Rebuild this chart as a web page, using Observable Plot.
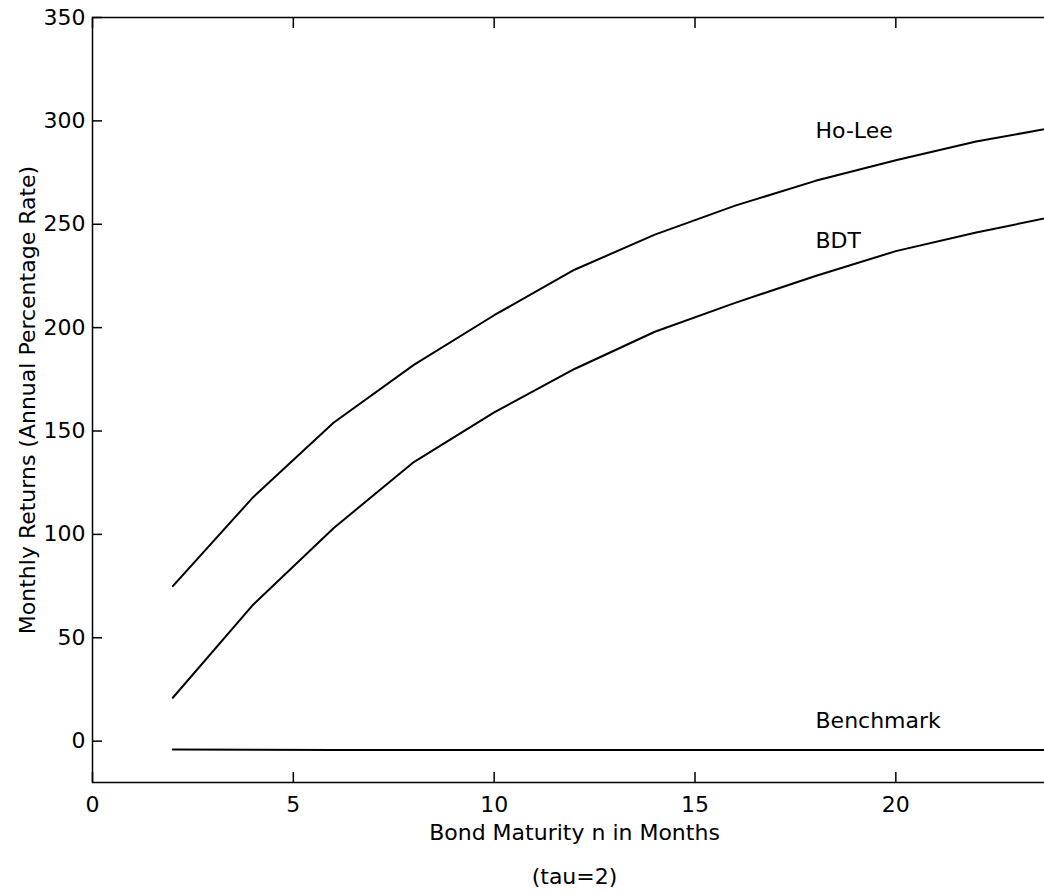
<!DOCTYPE html>
<html>
<head>
<meta charset="utf-8">
<script src="https://cdn.jsdelivr.net/npm/d3@7"></script>
<script src="https://cdn.jsdelivr.net/npm/@observablehq/plot@0.6"></script>
<style>
  html, body { margin: 0; padding: 0; background: #fff; overflow: hidden; }
  #chart { width: 1044px; height: 894px; overflow: hidden; }
  #chart svg { max-width: none !important; }
</style>
</head>
<body>
<div id="chart"></div>
<script>
// Bond maturity n (months)
const maturity = [2, 4, 6, 8, 10, 12, 14, 16, 18, 20, 22, 24];
// Monthly returns (annual percentage rate)
const hoLee     = [75, 118, 154, 182, 206, 228, 245, 259, 271, 281, 290, 297];
const bdt       = [21, 66, 103, 135, 159, 180, 198, 212, 225, 237, 246, 254];
const benchmark = [-4, -4.2, -4.3, -4.3, -4.3, -4.3, -4.3, -4.3, -4.3, -4.3, -4.3, -4.3];

const seriesNames = ["Ho-Lee", "BDT", "Benchmark"];
const seriesValues = [hoLee, bdt, benchmark];

// In-plot labels
const labelText = ["Ho-Lee", "BDT", "Benchmark"];
const labelX = [18, 18, 18];
const labelY = [295, 242, 10];

const xTicks = [0, 5, 10, 15, 20];
const yTicks = [0, 50, 100, 150, 200, 250, 300, 350];

const xLabel = "Bond Maturity n in Months";
const yLabel = "Monthly Returns (Annual Percentage Rate)";
const note = "(tau=2)";

const rows = seriesNames.flatMap((s, i) =>
  maturity.map((n, j) => ({series: s, n, value: seriesValues[i][j]}))
);
const labels = labelText.map((t, i) => ({text: t, x: labelX[i], y: labelY[i]}));

const chart = Plot.plot({
  width: 1080,
  height: 894,
  marginLeft: 92,
  marginRight: 24,
  marginTop: 17,
  marginBottom: 112,
  style: {fontFamily: "DejaVu Sans, sans-serif", fontSize: "22px", color: "black", background: "white", maxWidth: "none"},
  x: {domain: [0, 24]},
  y: {domain: [-20, 350]},
  marks: [
    Plot.frame({stroke: "black", strokeWidth: 1.5}),
    Plot.axisY({anchor: "left", ticks: yTicks, tickSize: -10, tickPadding: 17, label: null, strokeWidth: 1.5}),
    Plot.axisY({anchor: "right", ticks: yTicks, tickSize: -10, tickFormat: () => "", label: null, strokeWidth: 1.5}),
    Plot.axisX({anchor: "bottom", ticks: xTicks, tickSize: -10, tickPadding: 24, label: null, strokeWidth: 1.5}),
    Plot.axisX({anchor: "top", ticks: xTicks, tickSize: -10, tickFormat: () => "", label: null, strokeWidth: 1.5}),
    Plot.line(rows, {x: "n", y: "value", z: "series", stroke: "black", strokeWidth: 2}),
    Plot.text(labels, {x: "x", y: "y", text: "text", textAnchor: "start", fill: "black"}),
    Plot.text([xLabel], {frameAnchor: "bottom", text: d => d, dy: 50, lineAnchor: "middle", textAnchor: "middle", fill: "black"}),
    Plot.text([note], {frameAnchor: "bottom", text: d => d, dy: 94, lineAnchor: "middle", textAnchor: "middle", fill: "black"}),
    Plot.text([yLabel], {frameAnchor: "left", text: d => d, rotate: -90, dx: -65, lineAnchor: "middle", textAnchor: "middle", fill: "black"})
  ]
});
document.getElementById("chart").appendChild(chart);
</script>
</body>
</html>
